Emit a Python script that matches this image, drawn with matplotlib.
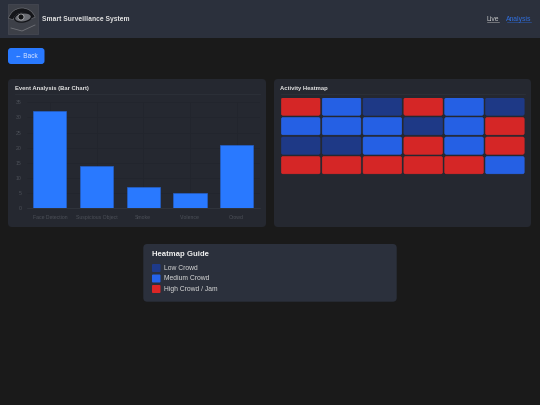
import matplotlib
matplotlib.use('Agg')
import matplotlib.pyplot as plt
from matplotlib.patches import FancyBboxPatch, Rectangle, Ellipse, Circle, Wedge

# Data
events = ['Face Detection', 'Suspicious Object', 'Smoke', 'Violence', 'Crowd']
counts = [32, 14, 7, 5, 21]
y_ticks = [0, 5, 10, 15, 20, 25, 30, 35]

# 0 low, 1 medium, 2 high
heat_rows = [
	[2, 1, 0, 2, 1, 0],
	[1, 1, 1, 0, 1, 2],
	[0, 0, 1, 2, 1, 2],
	[2, 2, 2, 2, 2, 1],
]
heat_colors = ['#1e3a8a', '#2563eb', '#dc2626']
guide_labels = ['Low Crowd', 'Medium Crowd', 'High Crowd / Jam']

W, H = 540, 405
plt.rcParams['font.family'] = ['Liberation Sans', 'DejaVu Sans']

fig = plt.figure(figsize=(W / 100, H / 100), dpi=100, facecolor='#1a1a1a')

# page layer in pixel coordinates, y going down
page = fig.add_axes([0, 0, 1, 1])
page.set_xlim(0, W)
page.set_ylim(H, 0)
page.axis('off')


def box(x0, y0, x1, y1, color, r=3, **kw):
	page.add_patch(FancyBboxPatch((x0, y0), x1 - x0, y1 - y0, boxstyle=f'round,pad=0,rounding_size={r}',
		facecolor=color, edgecolor='none', **kw))


def pixel_axes(x0, y0, x1, y1):
	ax = fig.add_axes([x0 / W, 1 - y1 / H, (x1 - x0) / W, (y1 - y0) / H])
	ax.patch.set_alpha(0)
	return ax


# header
page.add_patch(Rectangle((0, 0), W, 38, facecolor='#2b303c', edgecolor='none'))
# logo, a rough eye on a grey square
page.add_patch(Rectangle((8, 4), 30, 30, facecolor='#3d4048', edgecolor='#4c4f58', linewidth=0.4))
page.add_patch(Wedge((22, 22), 14, 195, 340, width=5, facecolor='#15161a', edgecolor='#77797f', linewidth=0.4))
page.add_patch(Ellipse((23, 17.5), 17, 9, angle=-8, facecolor='#6b6d73', edgecolor='#111216', linewidth=0.9))
page.add_patch(Circle((21, 17), 3, facecolor='#111214', edgecolor='#a8a9ac', linewidth=0.6))
page.plot([11, 22, 35], [28, 31, 25], color='#6f7177', linewidth=0.6)
page.text(42.5, 19.2, 'Smart Surveillance System', color='#e2e2e2', fontsize=4.85, fontweight='bold', va='center')
page.text(492.5, 19.2, 'Live', color='#c8c8c8', fontsize=4.85, va='center', ha='center')
page.plot([486.5, 498.5], [21.8, 21.8], color='#a8a8a8', linewidth=0.4)
page.text(518.5, 19.2, 'Analysis', color='#2f6fe0', fontsize=4.85, va='center', ha='center')
page.plot([506.5, 531], [21.8, 21.8], color='#2a5cb8', linewidth=0.4)

# back button
box(8, 48, 44.5, 64, '#2979ff')
page.text(26.3, 56.3, '← Back', color='#dbe7ff', fontsize=4.7, ha='center', va='center')

# panels
box(8, 79, 266, 227, '#252830', r=4)
box(274, 79, 531, 227, '#252830', r=4)
page.text(15, 88.6, 'Event Analysis (Bar Chart)', color='#e2e2e2', fontsize=4.25, fontweight='bold', va='center')
page.text(280.5, 88.6, 'Activity Heatmap', color='#e2e2e2', fontsize=4.25, fontweight='bold', va='center')
page.plot([15, 259.5], [93.5, 93.5], color='#2f333b', linewidth=0.5)
page.plot([280.5, 525], [93.5, 93.5], color='#2f333b', linewidth=0.5)

# bar chart
ax = pixel_axes(26.5, 102.3, 260, 208.3)
ax.bar(range(len(events)), counts, width=0.71, color='#2979ff', edgecolor='#2560c8', linewidth=0.5)
ax.set_xlim(-0.5, len(events) - 0.5)
ax.set_ylim(0, 35)
ax.set_yticks(y_ticks)
ax.set_xticks(range(len(events)))
ax.set_xticklabels(events)
ax.tick_params(axis='y', colors='#4c5058', labelsize=3.7, length=0, pad=3.5)
ax.tick_params(axis='x', colors='#4c5058', labelsize=3.7, length=0, pad=4.5)
ax.grid(True, color='#22252c', linewidth=0.5)
ax.set_axisbelow(True)
for s in ax.spines.values():
	s.set_visible(False)
ax.spines['bottom'].set_visible(True)
ax.spines['bottom'].set_color('#343840')
ax.spines['bottom'].set_linewidth(0.5)

# heatmap cells, column and row index are the data coordinates
cols = len(heat_rows[0])
rows = len(heat_rows)
hm_w = 245.0
hm_h = rows * 19.5
hm = pixel_axes(280.3, 98, 280.3 + hm_w, 98 + hm_h)
hm.set_xlim(0, cols)
hm.set_ylim(rows, 0)
hm.axis('off')
gap_x = 2.2 / (hm_w / cols)
gap_y = 2.2 / (hm_h / rows)
aspect = (hm_w / cols) / (hm_h / rows)
for r, row in enumerate(heat_rows):
	for c, level in enumerate(row):
		hm.add_patch(FancyBboxPatch((c + gap_x / 2, r), 1 - gap_x, 1 - gap_y,
			boxstyle='round,pad=0,rounding_size=0.04', mutation_aspect=aspect,
			facecolor=heat_colors[level], edgecolor=heat_colors[level], linewidth=0.4, alpha=0.97))

# guide
box(143.3, 244, 396.7, 301.7, '#2b303c', r=4)
page.text(152, 255, 'Heatmap Guide', color='#f0f0f0', fontsize=5.6, fontweight='bold', va='center')
for i, (label, color) in enumerate(zip(guide_labels, heat_colors)):
	y = 268 + i * 10.5
	box(152, y - 4, 160.5, y + 4, color, r=1)
	page.text(164.5, y + 0.5, label, color='#d8d8d8', fontsize=4.9, va='center')

fig.savefig('out.png', dpi=100, facecolor=fig.get_facecolor())
